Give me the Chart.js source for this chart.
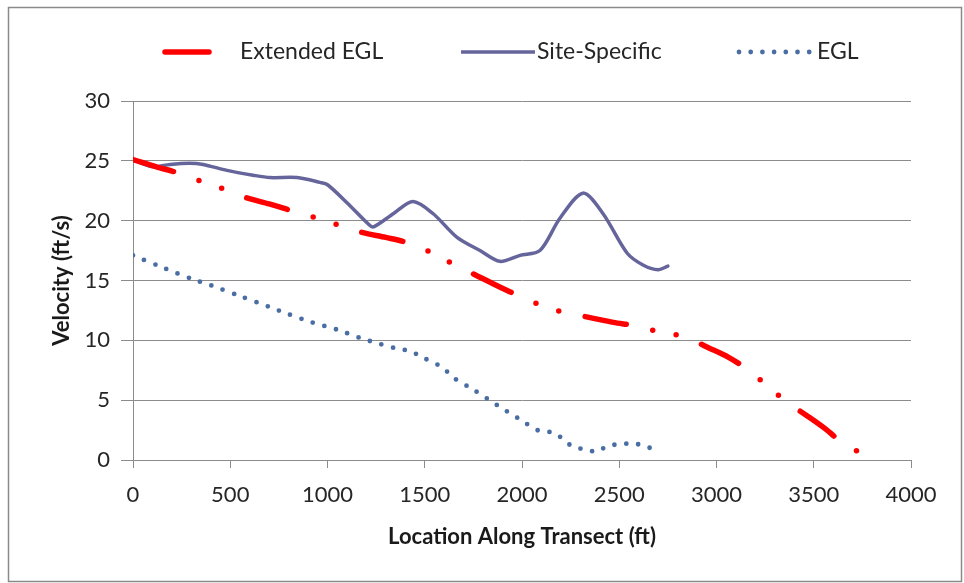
<!DOCTYPE html>
<html>
<head>
<meta charset="utf-8">
<script src="https://cdn.jsdelivr.net/npm/chart.js@4"></script>
<style>
  html, body { margin: 0; padding: 0; background: #fff; }
  #wrap { width: 964px; height: 583px; position: relative; }
</style>
</head>
<body>
<div id="wrap"><canvas id="velChart"></canvas></div>
<script>
// Distancia ao longo do transecto (ft) e velocidade (ft/s)
const extendedFt = [0, 120, 230, 350, 473, 586, 700, 822, 946, 1064, 1182, 1300, 1424, 1537, 1655, 1768, 1880, 2000, 2103, 2226, 2350, 2470, 2586, 2709, 2838, 2956, 3060, 3157, 3254, 3357, 3465, 3560, 3650, 3763];
const extendedVel = [25.1, 24.5, 24.0, 23.3, 22.6, 21.9, 21.4, 20.8, 20.2, 19.6, 19.0, 18.6, 18.1, 17.3, 16.3, 15.4, 14.5, 13.6, 12.9, 12.3, 11.9, 11.5, 11.2, 10.7, 10.3, 9.4, 8.6, 7.6, 6.3, 4.9, 3.7, 2.6, 1.4, 0.4];

const siteFt = [0, 100, 190, 290, 360, 483, 617, 704, 843, 961, 1000, 1100, 1218, 1240, 1340, 1439, 1542, 1666, 1784, 1886, 1990, 2092, 2195, 2313, 2416, 2540, 2622, 2700, 2750];
const siteVel = [25.1, 24.5, 24.7, 24.8, 24.7, 24.2, 23.8, 23.6, 23.6, 23.2, 23.0, 21.5, 19.6, 19.5, 20.6, 21.6, 20.6, 18.6, 17.5, 16.6, 17.1, 17.5, 20.2, 22.3, 20.6, 17.3, 16.3, 15.9, 16.2];

const eglFt = [0, 150, 308, 400, 550, 700, 797, 920, 1049, 1167, 1270, 1357, 1424, 1486, 1594, 1645, 1758, 1871, 1979, 2092, 2159, 2211, 2262, 2324, 2385, 2442, 2509, 2570, 2642, 2699];
const eglVel = [17.1, 16.1, 15.1, 14.6, 13.7, 12.8, 12.2, 11.5, 10.9, 10.2, 9.7, 9.3, 9.1, 8.6, 7.7, 6.9, 5.8, 4.6, 3.5, 2.4, 2.3, 1.75, 1.1, 0.9, 0.7, 1.2, 1.3, 1.4, 1.1, 0.75];

const seriesNames = ['Extended EGL', 'Site-Specific', 'EGL'];
const xTitle = 'Location Along Transect (ft)';
const yTitle = 'Velocity (ft/s)';

const toPoints = (xs, ys) => xs.map((x, i) => ({ x: x, y: ys[i] }));

const FONT = 'Lato, "Open Sans", sans-serif';
const GRID = '#8c8c8c';

// Legenda desenhada a mao, no estilo do Excel
const excelLegend = {
    id: 'excelLegend',
    afterDraw(chart) {
        const c = chart.ctx;
        const y = 52;
        const items = [
            { x0: 165, x1: 209, tx: 240, dash: [] },
            { x0: 461, x1: 535, tx: 537, dash: [] },
            { x0: 739, x1: 810, tx: 817, dash: [0, 11.7] }
        ];
        c.save();
        items.forEach((it, i) => {
            const ds = chart.data.datasets[i];
            c.beginPath();
            c.strokeStyle = ds.borderColor;
            c.lineWidth = ds.borderWidth;
            c.lineCap = i === 1 ? 'butt' : 'round';
            c.setLineDash(it.dash);
            c.moveTo(it.x0, y);
            c.lineTo(it.x1, y);
            c.stroke();
            c.setLineDash([]);
            c.fillStyle = '#262626';
            c.font = '23px ' + FONT;
            c.textBaseline = 'middle';
            c.textAlign = 'left';
            c.fillText(ds.label, it.tx, y);
        });
        // moldura do grafico
        c.strokeStyle = '#8a8a8a';
        c.lineWidth = 1.5;
        c.strokeRect(8.5, 7.5, 953, 574);
        c.restore();
    }
};

const ctx = document.getElementById('velChart');
new Chart(ctx, {
    type: 'line',
    data: {
        datasets: [
            {
                label: seriesNames[0],
                data: toPoints(extendedFt, extendedVel),
                borderColor: '#ff0000',
                borderWidth: 5.5,
                borderDash: [42, 27, 0, 24, 0, 27],
                borderCapStyle: 'round',
                borderJoinStyle: 'round',
                pointRadius: 0,
                tension: 0.3,
                fill: false
            },
            {
                label: seriesNames[1],
                data: toPoints(siteFt, siteVel),
                borderColor: '#65659c',
                borderWidth: 3.5,
                borderCapStyle: 'round',
                borderJoinStyle: 'round',
                pointRadius: 0,
                tension: 0.3,
                fill: false
            },
            {
                label: seriesNames[2],
                data: toPoints(eglFt, eglVel),
                borderColor: '#4a6ea3',
                borderWidth: 4.8,
                borderDash: [0, 12],
                borderCapStyle: 'round',
                pointRadius: 0,
                tension: 0.3,
                fill: false
            }
        ]
    },
    options: {
        responsive: true,
        maintainAspectRatio: false,
        animation: false,
        layout: { padding: { left: 49, top: 101, right: 53, bottom: 33 } },
        plugins: {
            legend: { display: false },
            tooltip: { enabled: false }
        },
        scales: {
            x: {
                type: 'linear',
                min: 0,
                max: 4000,
                afterFit: (s) => { s.height = 90; },
                grid: { display: true, drawOnChartArea: false, drawTicks: true, tickLength: 8, color: GRID },
                border: { display: true, color: GRID, width: 1 },
                ticks: {
                    stepSize: 500, color: '#262626', padding: 14, maxRotation: 0,
                    font: { family: FONT, size: 22 },
                    callback: (v) => String(v)
                },
                title: { display: true, text: xTitle, color: '#1a1a1a', padding: 0, font: { family: FONT, size: 22, weight: 'bold' } }
            },
            y: {
                min: 0,
                max: 30,
                afterFit: (s) => { s.width = 84; },
                grid: { color: GRID, tickLength: 12, lineWidth: 1 },
                border: { display: true, color: GRID, width: 1 },
                ticks: { stepSize: 5, color: '#262626', padding: 11, font: { family: FONT, size: 22 } },
                title: { display: true, text: yTitle, color: '#1a1a1a', padding: 0, font: { family: FONT, size: 22, weight: 'bold' } }
            }
        }
    },
    plugins: [excelLegend]
});
</script>
</body>
</html>
